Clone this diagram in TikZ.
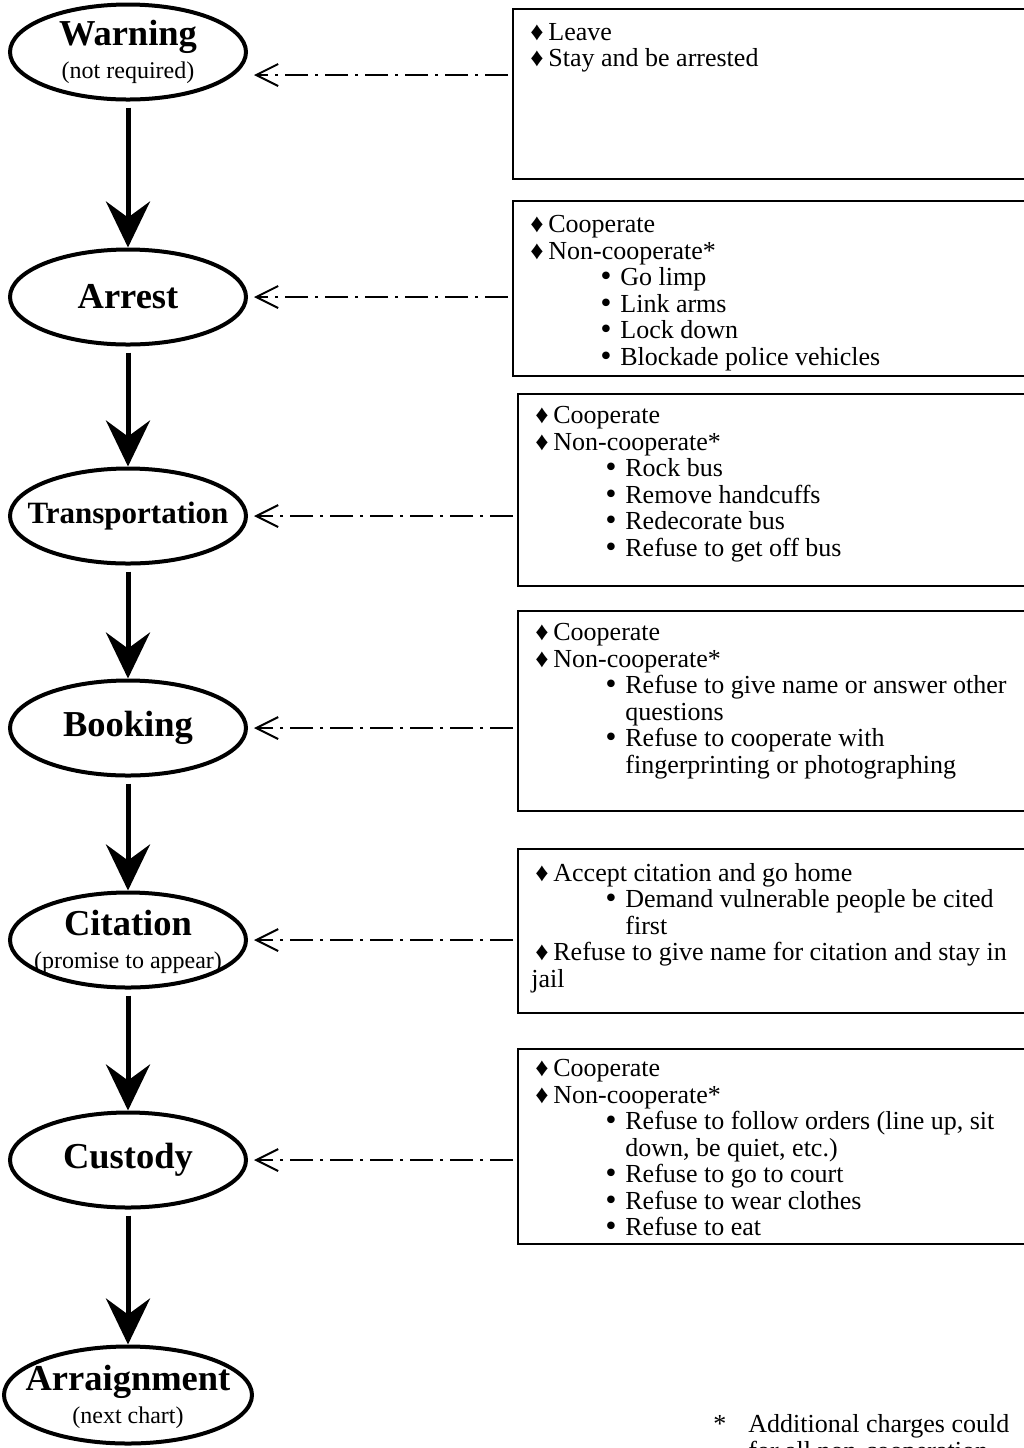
\documentclass[tikz,border=0pt]{standalone}
\usepackage{fontspec}
\setmainfont{Liberation Serif}
\newfontfamily\symbfont{DejaVu Sans}
\usetikzlibrary{arrows.meta,positioning,shapes.geometric}
\tikzset{
    %Define style for the stages
    stage/.style={
           ellipse,
           draw=black, line width=2pt,
           minimum width=118pt,
           minimum height=47.5pt,
           inner sep=0pt},
    stagetext/.style={
           align=center,
           font=\fontsize{12}{16.5}\selectfont},
    %Define style for the boxes of choices
    choices/.style={
           rectangle,
           draw=black, line width=1pt,
           anchor=north west,
           minimum width=270pt},
    choicetext/.style={
           anchor=north west,
           align=left,
           inner xsep=7pt, inner ysep=7.5pt,
           font=\fontsize{13}{13.25}\selectfont},
    % Define arrow styles
    flow/.style={
           -{Stealth[length=23pt,width=22pt,inset=8pt]},
           line width=2.5pt,
           shorten <=3pt},
    back/.style={
           -{Straight Barb[length=11pt,width=11pt,line width=1pt]},
           line width=1.4pt,
           dash pattern=on 11.5pt off 3.5pt on 1.5pt off 3.5pt,
           shorten <=2pt, shorten >=3pt}
}
\newcommand{\stagename}[1]{{\bfseries\fontsize{18.25}{16.5}\selectfont #1}}
\newcommand{\mainopt}{\hspace*{2pt}\makebox[9pt][l]{♦}}
\newcommand{\subopt}{\hspace*{36pt}\makebox[11pt][l]{\symbfont •}}
\newcommand{\subcont}{\hspace*{47pt}}

\begin{document}
\begin{tikzpicture}[x=0.5pt,y=-0.5pt]
\useasboundingbox (0,0) rectangle (1024,1448);
\clip (0,0) rectangle (1024,1448);
% stages
\node[stage, label={[stagetext]center:{\stagename{Warning}\\(not required)}}] (1) at (128,52) {};
\node[stage, below=73pt of 1, label={[stagetext]center:{\stagename{Arrest}}}] (2) {};
\node[stage, below=60pt of 2, label={[stagetext]center:{{\bfseries\fontsize{15.5}{16.5}\selectfont Transportation}}}] (3) {};
\node[stage, below=56.5pt of 3, label={[stagetext]center:{\stagename{Booking}}}] (4) {};
\node[stage, below=56.5pt of 4, label={[stagetext, yshift=-1pt]center:{\stagename{Citation}\\(promise to appear)}}] (5) {};
\node[stage, below=60.5pt of 5, label={[stagetext]center:{\stagename{Custody}}}] (6) {};
\node[stage, below=67.5pt of 6, minimum width=124pt, minimum height=48.5pt,
      label={[stagetext, yshift=-1pt]center:{\stagename{Arraignment}\\(next chart)}}] (7) {};
% boxes of choices
\node[choices, minimum height=85pt] (o1) at (512,8) {};
\node[choices, minimum height=87.5pt] (o2) at (512,200) {};
\node[choices, minimum height=96pt] (o3) at (517,393) {};
\node[choices, minimum height=100pt] (o4) at (517,610) {};
\node[choices, minimum height=82pt] (o5) at (517,848) {};
\node[choices, minimum height=97.5pt] (o6) at (517,1048) {};
\node[choicetext] (t1) at (o1.north west) {\mainopt Leave\\\mainopt Stay and be arrested};
\node[choicetext] (t2) at (o2.north west) {\mainopt Cooperate\\\mainopt Non-cooperate*\\
  \subopt Go limp\\\subopt Link arms\\\subopt Lock down\\\subopt Blockade police vehicles};
\node[choicetext, inner ysep=6.5pt] (t3) at (o3.north west) {\mainopt Cooperate\\\mainopt Non-cooperate*\\
  \subopt Rock bus\\\subopt Remove handcuffs\\\subopt Redecorate bus\\\subopt Refuse to get off bus};
\node[choicetext, inner ysep=6.5pt] (t4) at (o4.north west) {\mainopt Cooperate\\\mainopt Non-cooperate*\\
  \subopt Refuse to give name or answer other\\\subcont questions\\
  \subopt Refuse to cooperate with\\\subcont fingerprinting or photographing};
\node[choicetext] (t5) at (o5.north west) {\mainopt Accept citation and go home\\
  \subopt Demand vulnerable people be cited\\\subcont first\\
  \mainopt Refuse to give name for citation and stay in\\jail};
\node[choicetext, inner ysep=5.5pt] (t6) at (o6.north west) {\mainopt Cooperate\\\mainopt Non-cooperate*\\
  \subopt Refuse to follow orders (line up, sit\\\subcont down, be quiet, etc.)\\
  \subopt Refuse to go to court\\\subopt Refuse to wear clothes\\\subopt Refuse to eat};
\node[anchor=base west, align=left, inner sep=0pt, font=\fontsize{13}{13.25}\selectfont] (note) at (713,1459)
  {\makebox[17.5pt][l]{*}Additional charges could\\\hspace*{17.5pt}for all non-cooperation};
% connectors
\coordinate (w1) at ([yshift=-11.5pt]1.east);
\path[flow]
	(1) edge (2)
	(2) edge (3)
	(3) edge (4)
	(4) edge (5)
	(5) edge (6)
	(6) edge (7);
\path[back]
	(w1 -| o1.west) edge (w1)
	(o2.west |- 2.east) edge (2.east)
	(o3.west |- 3.east) edge (3.east)
	(o4.west |- 4.east) edge (4.east)
	(o5.west |- 5.east) edge (5.east)
	(o6.west |- 6.east) edge (6.east);
\end{tikzpicture}
\end{document}
